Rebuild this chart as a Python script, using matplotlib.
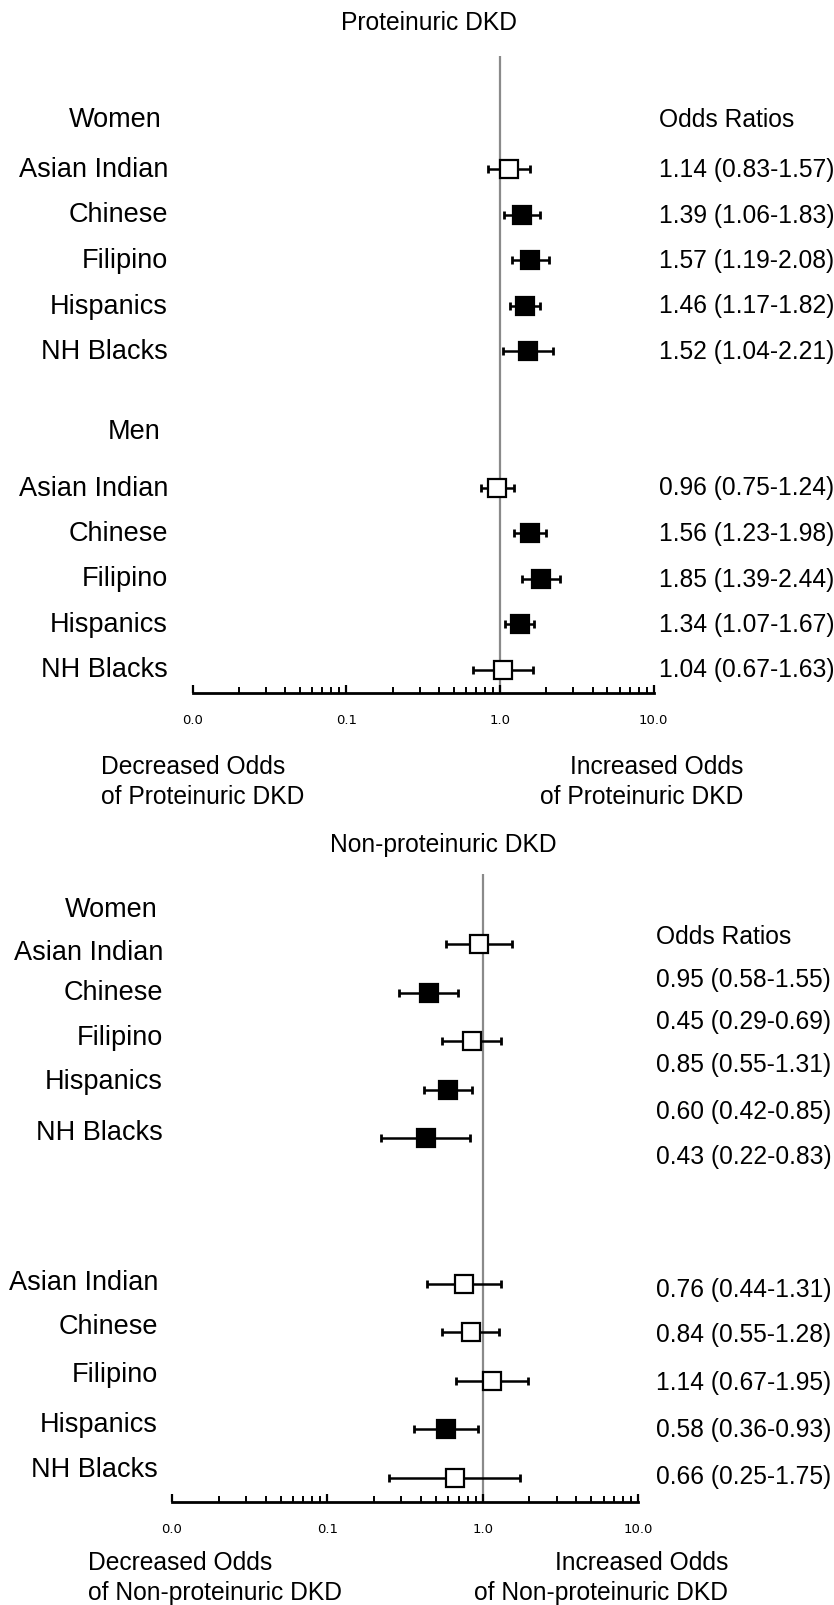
import numpy as np
import matplotlib
matplotlib.use("Agg")
import matplotlib.pyplot as plt
from matplotlib.ticker import FixedLocator, NullFormatter

plt.rcParams['font.family'] = ['Liberation Sans', 'DejaVu Sans']

# ---- data ----
groups = ["Asian Indian", "Chinese", "Filipino", "Hispanics", "NH Blacks"]

# Proteinuric DKD
prot_women_or = [1.14, 1.39, 1.57, 1.46, 1.52]
prot_women_lo = [0.83, 1.06, 1.19, 1.17, 1.04]
prot_women_hi = [1.57, 1.83, 2.08, 1.82, 2.21]
prot_men_or = [0.96, 1.56, 1.85, 1.34, 1.04]
prot_men_lo = [0.75, 1.23, 1.39, 1.07, 0.67]
prot_men_hi = [1.24, 1.98, 2.44, 1.67, 1.63]

# Non-proteinuric DKD
nonp_women_or = [0.95, 0.45, 0.85, 0.60, 0.43]
nonp_women_lo = [0.58, 0.29, 0.55, 0.42, 0.22]
nonp_women_hi = [1.55, 0.69, 1.31, 0.85, 0.83]
nonp_men_or = [0.76, 0.84, 1.14, 0.58, 0.66]
nonp_men_lo = [0.44, 0.55, 0.67, 0.36, 0.25]
nonp_men_hi = [1.31, 1.28, 1.95, 0.93, 1.75]

tick_vals = [0.01, 0.1, 1, 10]
tick_labels = ["0.0", "0.1", "1.0", "10.0"]

W, H = 834, 1606
fig = plt.figure(figsize=(W / 100, H / 100), dpi=100)
fig.patch.set_facecolor('white')


def fx(x):
    return x / W


def fy(y):
    return 1 - y / H


def make_axes(left, right, top, bottom, row0, step):
    ax = fig.add_axes([fx(left), fy(bottom), fx(right) - fx(left), fy(top) - fy(bottom)])
    ax.set_xscale('log')
    ax.set_xlim(0.01, 10)
    ax.set_ylim((bottom - row0) / step, (top - row0) / step)
    for s in ['top', 'right', 'left']:
        ax.spines[s].set_visible(False)
    ax.spines['bottom'].set_linewidth(2.0)
    ax.set_yticks([])
    ax.xaxis.set_major_locator(FixedLocator(tick_vals))
    ax.set_xticklabels(tick_labels, fontfamily='DejaVu Sans')
    ax.xaxis.set_minor_formatter(NullFormatter())
    ax.tick_params(axis='x', which='major', direction='in', length=6, width=1.6,
                   pad=14.5, labelsize=9.5)
    ax.tick_params(axis='x', which='minor', direction='in', length=4, width=1.4)
    ax.axvline(1, color='#8a8a8a', lw=1.6, zorder=1)
    ax.patch.set_alpha(0)
    return ax


def draw_rows(ax, ors, los, his, rows):
    for o, lo, hi, k in zip(ors, los, his, rows):
        sig = lo > 1 or hi < 1
        ax.errorbar(o, k, xerr=[[o - lo], [hi - o]], fmt='none', ecolor='black',
                    elinewidth=1.8, capsize=3, capthick=2, zorder=2)
        ax.plot(o, k, marker='s', markersize=13, markeredgewidth=1.6,
                markeredgecolor='black', markerfacecolor='black' if sig else 'white',
                linestyle='none', zorder=3)


def fmt_or(o, lo, hi):
    return "%.2f (%.2f-%.2f)" % (o, lo, hi)


women_rows = [0, 1, 2, 3, 4]
men_rows = [7, 8, 9, 10, 11]
lab_size = 19.5
txt_size = 17.7

# ---------- top panel: Proteinuric DKD ----------
ax1 = make_axes(192.6, 653.7, 57, 694, 170, 45.5)
draw_rows(ax1, prot_women_or, prot_women_lo, prot_women_hi, women_rows)
draw_rows(ax1, prot_men_or, prot_men_lo, prot_men_hi, men_rows)

fig.text(fx(429), fy(23), "Proteinuric DKD", ha='center', va='center', fontsize=txt_size)
fig.text(fx(162), fy(120), "Women", ha='right', va='center', fontsize=lab_size)
fig.text(fx(160), fy(432), "Men", ha='right', va='center', fontsize=lab_size)
fig.text(fx(659), fy(120), "Odds Ratios", ha='left', va='center', fontsize=txt_size)
for g, k in zip(groups, women_rows):
    fig.text(fx(168), fy(170 + 45.5 * k), g, ha='right', va='center', fontsize=lab_size)
for g, k in zip(groups, men_rows):
    fig.text(fx(168), fy(170 + 45.5 * k), g, ha='right', va='center', fontsize=lab_size)
for o, lo, hi, k in zip(prot_women_or, prot_women_lo, prot_women_hi, women_rows):
    fig.text(fx(659), fy(170 + 45.5 * k), fmt_or(o, lo, hi), ha='left', va='center', fontsize=txt_size)
for o, lo, hi, k in zip(prot_men_or, prot_men_lo, prot_men_hi, men_rows):
    fig.text(fx(659), fy(170 + 45.5 * k), fmt_or(o, lo, hi), ha='left', va='center', fontsize=txt_size)

fig.text(fx(101), fy(767), "Decreased Odds", ha='left', va='center', fontsize=txt_size)
fig.text(fx(101), fy(797), "of Proteinuric DKD", ha='left', va='center', fontsize=txt_size)
fig.text(fx(743), fy(767), "Increased Odds", ha='right', va='center', fontsize=txt_size)
fig.text(fx(743), fy(797), "of Proteinuric DKD", ha='right', va='center', fontsize=txt_size)

# ---------- bottom panel: Non-proteinuric DKD ----------
ax2 = make_axes(172, 638, 875, 1503, 945, 48.5)
draw_rows(ax2, nonp_women_or, nonp_women_lo, nonp_women_hi, women_rows)
draw_rows(ax2, nonp_men_or, nonp_men_lo, nonp_men_hi, men_rows)

fig.text(fx(443), fy(845), "Non-proteinuric DKD", ha='center', va='center', fontsize=txt_size)
fig.text(fx(158), fy(910), "Women", ha='right', va='center', fontsize=lab_size)
fig.text(fx(656), fy(937), "Odds Ratios", ha='left', va='center', fontsize=txt_size)

lab_women_y = [953, 993, 1038, 1082, 1133]
lab_men_y = [1283, 1327, 1375, 1425, 1470]
or_women_y = [980, 1022, 1065, 1112, 1157]
or_men_y = [1290, 1335, 1383, 1430, 1477]
for g, y in zip(groups, lab_women_y):
    fig.text(fx(163), fy(y), g, ha='right', va='center', fontsize=lab_size)
for g, y in zip(groups, lab_men_y):
    fig.text(fx(158), fy(y), g, ha='right', va='center', fontsize=lab_size)
for o, lo, hi, y in zip(nonp_women_or, nonp_women_lo, nonp_women_hi, or_women_y):
    fig.text(fx(656), fy(y), fmt_or(o, lo, hi), ha='left', va='center', fontsize=txt_size)
for o, lo, hi, y in zip(nonp_men_or, nonp_men_lo, nonp_men_hi, or_men_y):
    fig.text(fx(656), fy(y), fmt_or(o, lo, hi), ha='left', va='center', fontsize=txt_size)

fig.text(fx(88), fy(1563), "Decreased Odds", ha='left', va='center', fontsize=txt_size)
fig.text(fx(88), fy(1593), "of Non-proteinuric DKD", ha='left', va='center', fontsize=txt_size)
fig.text(fx(728), fy(1563), "Increased Odds", ha='right', va='center', fontsize=txt_size)
fig.text(fx(728), fy(1593), "of Non-proteinuric DKD", ha='right', va='center', fontsize=txt_size)

fig.savefig("out.png", dpi=100)
